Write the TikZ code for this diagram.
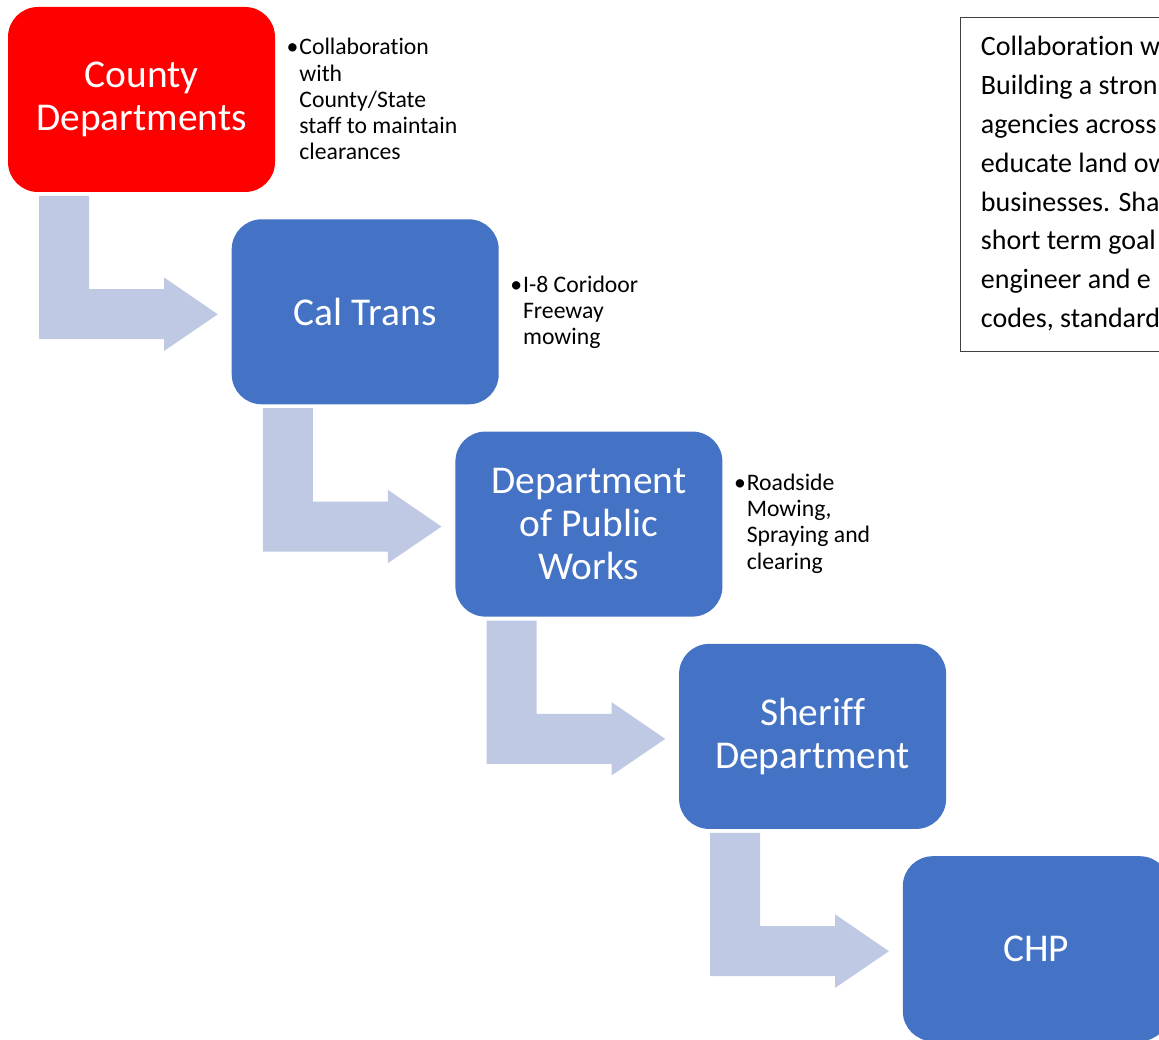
\documentclass[tikz,border=0pt]{standalone}
\usepackage{fontspec}
\setmainfont[Ligatures={NoCommon}]{Carlito}
\usetikzlibrary{calc}
\definecolor{boxblue}{RGB}{68,114,196}
\definecolor{boxred}{RGB}{255,0,0}
\definecolor{arrowfill}{RGB}{191,201,227}
\definecolor{framegray}{RGB}{64,64,64}
\tikzset{
  stagebox/.style={rounded corners=30pt, minimum width=267pt, minimum height=185pt,
    inner sep=0pt, text=white, align=center, draw=none,
    font=\fontsize{39.4}{43}\selectfont},
  bluebox/.style={stagebox, fill=boxblue},
  redbox/.style={stagebox, fill=boxred},
  bullettext/.style={anchor=base west, inner sep=0pt, text=black,
    font=\fontsize{23.7}{26.1}\selectfont},
  bentarrow/.style={fill=arrowfill, draw=none},
  noteframe/.style={draw=framegray, line width=1pt, anchor=north west,
    minimum width=230pt, minimum height=334pt, inner sep=0pt},
  notetext/.style={anchor=base west, inner sep=0pt, text=black,
    font=\fontsize{28}{38.8}\selectfont}
}
\newcommand{\stagearrow}[2]{%
  \fill[bentarrow] ($(#1.south west)+(31.3,3.7)$) -- ($(#1.south west)+(81.3,3.7)$)
    -- ($(#1.south west)+(81.3,97)$) -- ($(#1.south west)+(156.3,97)$)
    -- ($(#1.south west)+(156.3,85.3)$) -- ($(#2.west)+(-13.7,2.5)$)
    -- ($(#1.south west)+(156.3,158.7)$) -- ($(#1.south west)+(156.3,147)$)
    -- ($(#1.south west)+(31.3,147)$) -- cycle;}
\newcommand{\bulletlines}[1]{\vtop{\baselineskip=26.1pt #1}}
\begin{document}
\begin{tikzpicture}[x=1pt, y=-1pt]
\useasboundingbox (0,0) rectangle (1159,1040);
\clip (0,0) rectangle (1159,1040);
\fill[white] (0,0) rectangle (1159,1040);

% stage boxes
\node[redbox]  (county)   at (141.5,99.5)  {\raisebox{-2pt}{County}\\\raisebox{-2pt}{Departments}};
\node[bluebox] (caltrans) at (365.2,311.8) {Cal Trans};
\node[bluebox] (dpw)      at (588.9,524.1) {Department\\of Public\\Works};
\node[bluebox] (sheriff)  at (812.6,736.4) {Sheriff\\Department};
\node[bluebox] (chp)      at (1036.3,948.7) {CHP};

% bent arrows
\stagearrow{county}{caltrans}
\stagearrow{caltrans}{dpw}
\stagearrow{dpw}{sheriff}
\stagearrow{sheriff}{chp}

% bullet notes
\node[bullettext] (countynote) at ($(county.east)+(24,-44.5)$)
  {\bulletlines{\hbox{\llap{•\kern1pt}Collaboration}\hbox{with}\hbox{County/State}\hbox{staff to maintain}\hbox{clearances}}};
\node[bullettext] (calnote) at ($(caltrans.east)+(24,-19.5)$)
  {\bulletlines{\hbox{\llap{•\kern1pt}I-8 Coridoor}\hbox{Freeway}\hbox{mowing}}};
\node[bullettext] (dpwnote) at ($(dpw.east)+(24,-33.4)$)
  {\bulletlines{\hbox{\llap{•\kern1pt}Roadside}\hbox{Mowing,}\hbox{Spraying and}\hbox{clearing}}};

% text box on the right
\node[noteframe] (noteframe) at (959.5,16.7) {};
\node[notetext] (notetext) at ($(noteframe.north west)+(21.2,39.3)$)
  {\vtop{\baselineskip=38.8pt
    \hbox{Collaboration w}\hbox{Building a stron}\hbox{agencies across}\hbox{educate land ow}%
    \hbox{businesses. Sha}\hbox{short term goal}\hbox{engineer and e}\hbox{codes, standard}}};
\end{tikzpicture}
\end{document}
